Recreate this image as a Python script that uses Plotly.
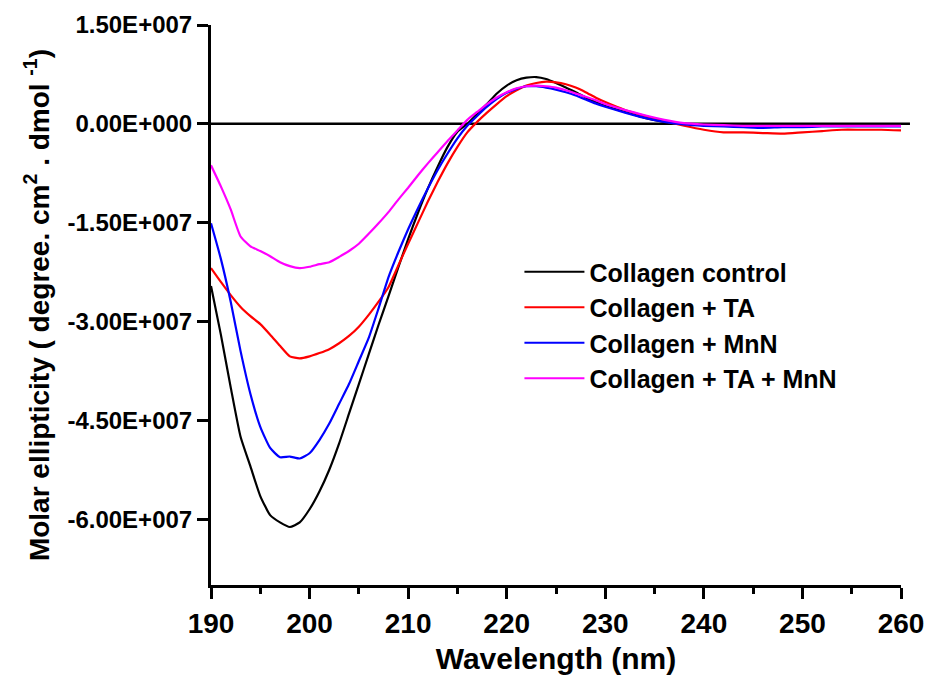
import plotly.graph_objects as go

wavelength = list(range(190, 231)) + list(range(232, 261, 2))

control = [-2.46, -3.2, -4.0, -4.75, -5.2, -5.65, -5.94, -6.05, -6.12, -6.05,
           -5.85, -5.58, -5.25, -4.85, -4.4, -3.95, -3.5, -3.05, -2.62, -2.18,
           -1.75, -1.35, -0.98, -0.65, -0.35, -0.12, 0.0, 0.15, 0.3, 0.46,
           0.58, 0.66, 0.70, 0.71, 0.68, 0.62, 0.55, 0.48, 0.40, 0.33,
           0.27, 0.18, 0.09, 0.03, 0.0, -0.02, -0.03, -0.03, -0.03, -0.03,
           -0.03, -0.03, -0.03, -0.03, -0.03, -0.03]

ta = [-2.19, -2.4, -2.6, -2.78, -2.92, -3.04, -3.2, -3.37, -3.53, -3.56,
      -3.53, -3.48, -3.42, -3.33, -3.22, -3.08, -2.9, -2.7, -2.48, -2.15,
      -1.82, -1.5, -1.18, -0.88, -0.6, -0.35, -0.13, 0.03, 0.17, 0.3,
      0.42, 0.51, 0.58, 0.62, 0.64, 0.63, 0.60, 0.55, 0.48, 0.40,
      0.33, 0.21, 0.12, 0.04, -0.03, -0.09, -0.13, -0.13, -0.14, -0.15,
      -0.13, -0.11, -0.09, -0.09, -0.09, -0.10]

mnn = [-1.51, -2.05, -2.7, -3.45, -4.1, -4.6, -4.92, -5.06, -5.05, -5.08,
       -5.0, -4.8, -4.55, -4.25, -3.95, -3.6, -3.25, -2.8, -2.33, -1.95,
       -1.6, -1.28, -0.98, -0.7, -0.45, -0.22, -0.03, 0.12, 0.26, 0.38,
       0.47, 0.53, 0.57, 0.57, 0.55, 0.52, 0.48, 0.43, 0.37, 0.31,
       0.26, 0.17, 0.09, 0.03, -0.01, -0.03, -0.04, -0.05, -0.06, -0.05,
       -0.05, -0.04, -0.04, -0.04, -0.04, -0.04]

ta_mnn = [-0.63, -0.95, -1.3, -1.71, -1.86, -1.93, -2.01, -2.1, -2.16, -2.19,
          -2.17, -2.13, -2.10, -2.02, -1.93, -1.82, -1.67, -1.51, -1.34, -1.15,
          -0.97, -0.78, -0.6, -0.43, -0.26, -0.1, 0.06, 0.18, 0.3, 0.4,
          0.48, 0.54, 0.57, 0.58, 0.57, 0.55, 0.51, 0.46, 0.41, 0.36,
          0.30, 0.21, 0.13, 0.06, 0.01, -0.01, -0.02, -0.03, -0.03, -0.03,
          -0.03, -0.03, -0.03, -0.03, -0.03, -0.03]

series_names = ["Collagen control", "Collagen + TA", "Collagen + MnN", "Collagen + TA + MnN"]
series_colors = ["#000000", "#ff0000", "#0000ff", "#ff00ff"]
series_values = [control, ta, mnn, ta_mnn]
scale = 1e7

y_tick_vals = [1.5e7, 0, -1.5e7, -3.0e7, -4.5e7, -6.0e7]
y_tick_text = ["1.50E+007", "0.00E+000", "-1.50E+007", "-3.00E+007", "-4.50E+007", "-6.00E+007"]
x_tick_vals = [190, 200, 210, 220, 230, 240, 250, 260]

FONT = "Arial, Liberation Sans, sans-serif"

fig = go.Figure()
for name, color, vals in zip(series_names, series_colors, series_values):
    fig.add_trace(go.Scatter(
        x=wavelength, y=[v * scale for v in vals], mode="lines", name=name,
        line=dict(color=color, width=2.2, shape="spline", smoothing=0.5),
    ))

fig.add_shape(type="line", xref="paper", yref="y", x0=0, x1=1.013, y0=0, y1=0,
              line=dict(color="black", width=2.5), layer="below")

fig.update_layout(
    width=927, height=675,
    margin=dict(l=211, r=26, t=25, b=90, autoexpand=False),
    plot_bgcolor="white", paper_bgcolor="white",
    font=dict(family=FONT, color="black"),
    showlegend=True,
    legend=dict(x=0.447, y=0.6, xanchor="left", yanchor="top",
                bgcolor="rgba(0,0,0,0)", borderwidth=0, itemwidth=60,
                font=dict(family=FONT, size=25, color="black", weight="bold"),
                tracegroupgap=0),
    xaxis=dict(range=[190, 260], tickvals=x_tick_vals, automargin=False,
               showline=True, linecolor="black", linewidth=3,
               ticks="outside", ticklen=11, tickwidth=3, tickcolor="black",
               minor=dict(dtick=5, tick0=190, ticks="outside", ticklen=6, tickwidth=3, tickcolor="black"),
               showgrid=False, zeroline=False, mirror=False,
               tickfont=dict(family=FONT, size=28, color="black", weight="bold"),
               title=dict(text="Wavelength (nm)", standoff=14,
                          font=dict(family=FONT, size=30, color="black", weight="bold"))),
    yaxis=dict(range=[-7e7, 1.5e7], tickvals=y_tick_vals, ticktext=y_tick_text, automargin=False,
               showline=True, linecolor="black", linewidth=3,
               ticks="outside", ticklen=11, tickwidth=3, tickcolor="black",
               showgrid=False, zeroline=False,
               tickfont=dict(family=FONT, size=24, color="black", weight="bold"),
               title=dict(text="Molar ellipticity ( degree. cm<sup>2</sup> . dmol <sup>-1</sup>)", standoff=10,
                          font=dict(family=FONT, size=28, color="black", weight="bold"))),
)

fig.write_html("out.html")
